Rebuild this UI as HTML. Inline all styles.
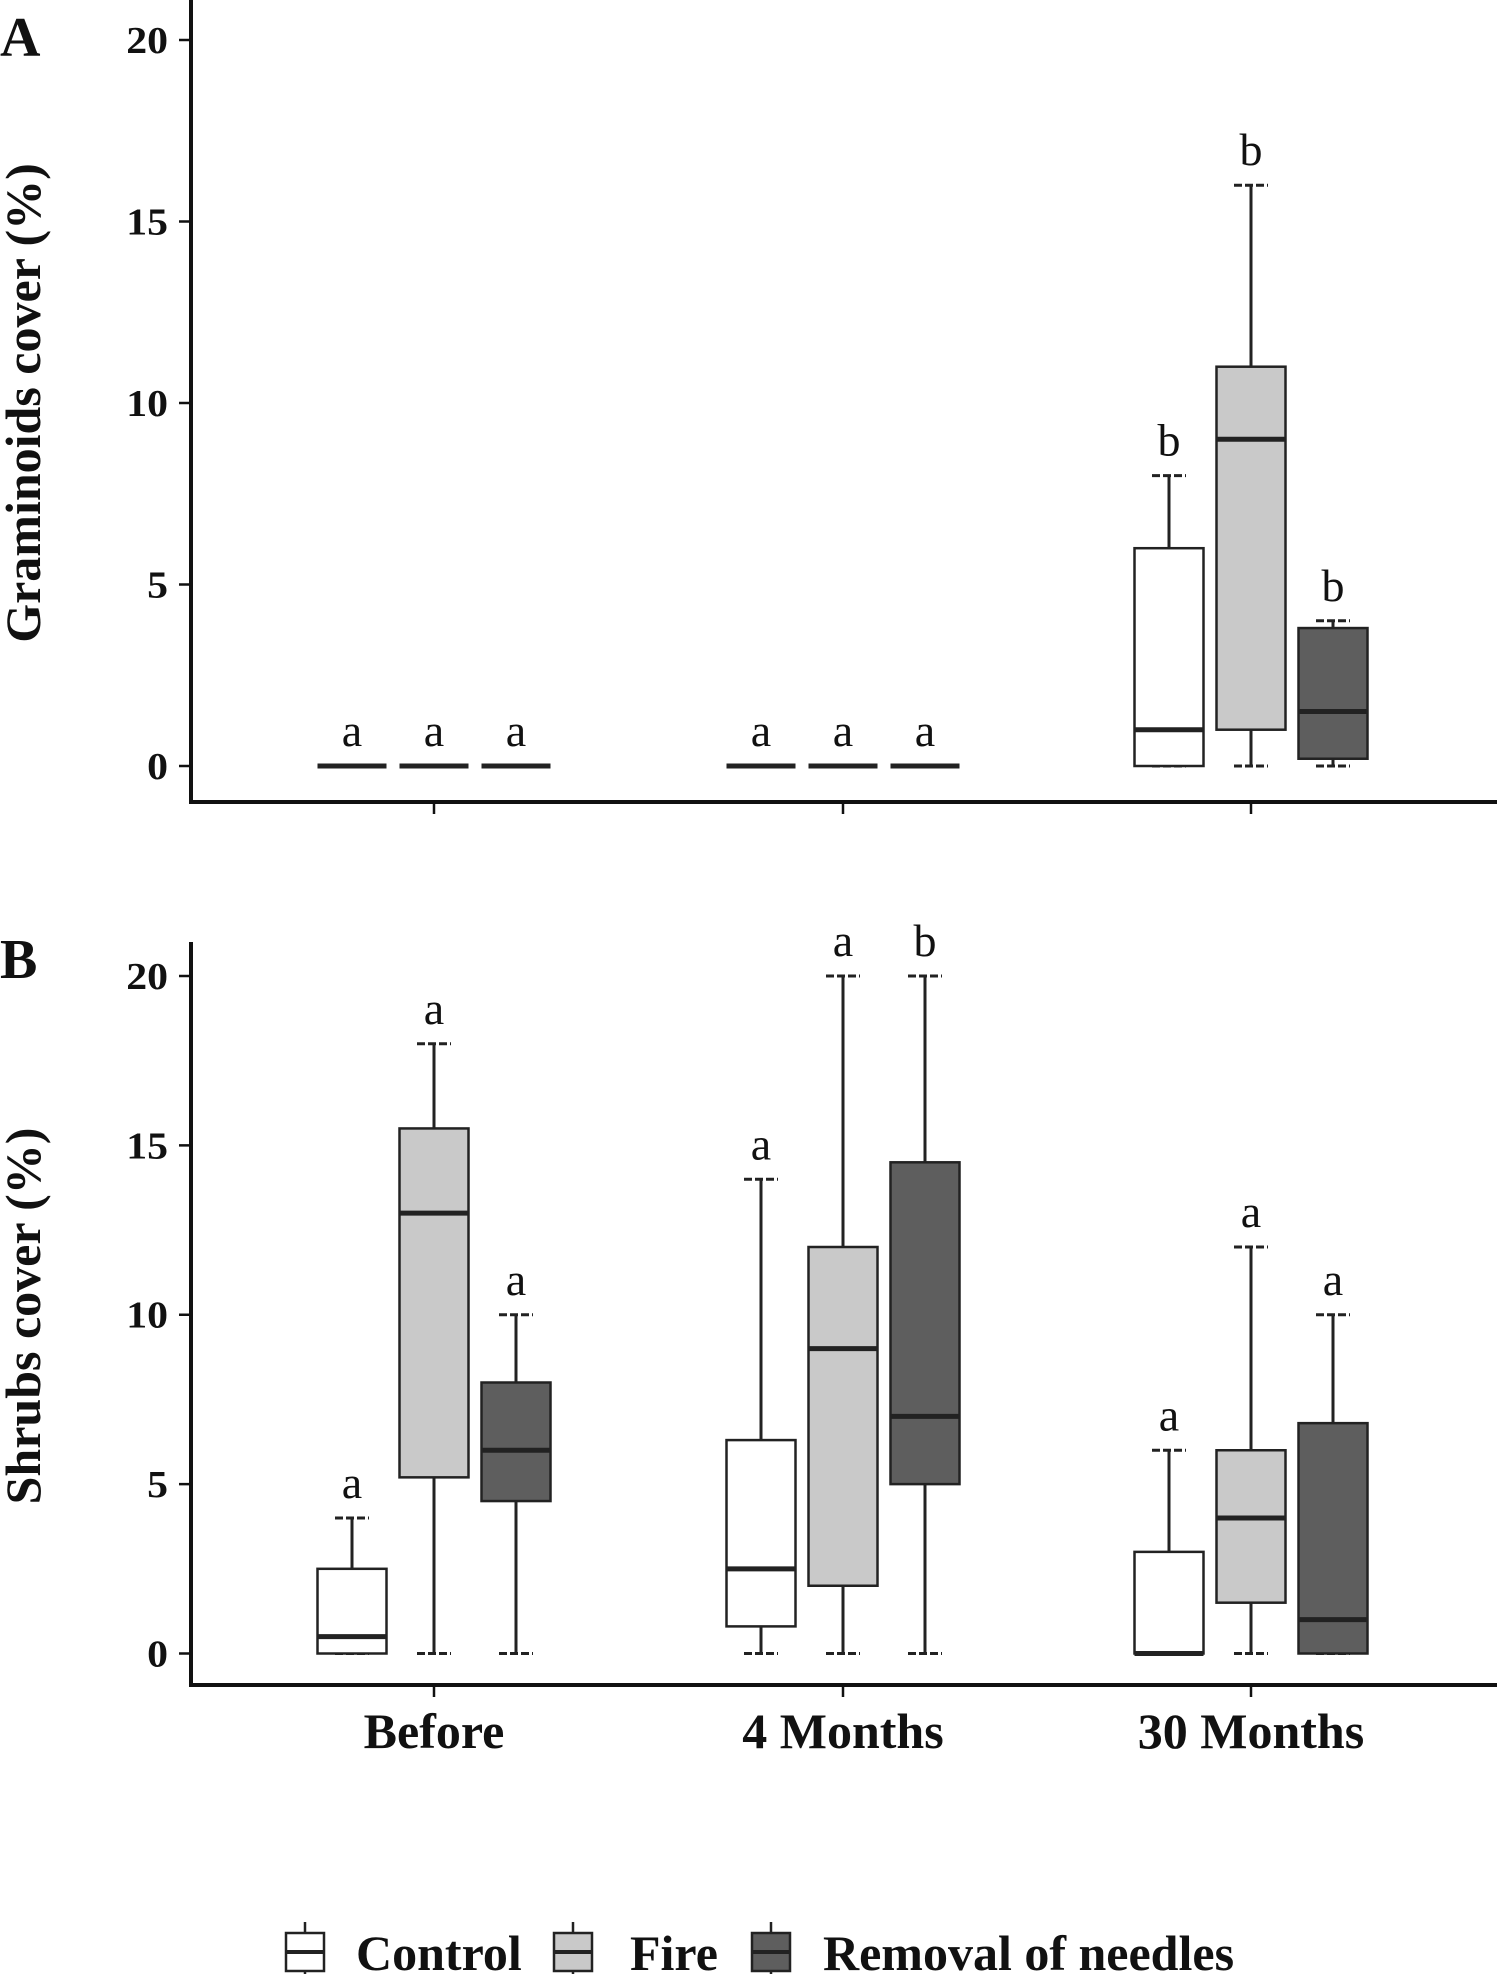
<!DOCTYPE html>
<html><head><meta charset="utf-8"><style>
body{margin:0;background:#fff;}
svg{display:block;font-family:"Liberation Serif",serif;}
</style></head><body>
<svg id="chart" width="1500" height="1974" viewBox="0 0 1500 1974"></svg>
<script>
const categories=["Before","4 Months","30 Months"];
const treatments=["Control","Fire","Removal of needles"];
const fills=["#ffffff","#c9c9c9","#5e5e5e"];
const yTicks=[0,5,10,15,20];
// panel A stats per [category][treatment]: [min,q1,median,q3,max]
const gramStats=[
 [[0,0,0,0,0],[0,0,0,0,0],[0,0,0,0,0]],
 [[0,0,0,0,0],[0,0,0,0,0],[0,0,0,0,0]],
 [[0,0,1,6,8],[0,1,9,11,16],[0,0.2,1.5,3.8,4]]
];
const gramLetters=[["a","a","a"],["a","a","a"],["b","b","b"]];
const shrubStats=[
 [[0,0,0.5,2.5,4],[0,5.2,13,15.5,18],[0,4.5,6,8,10]],
 [[0,0.8,2.5,6.3,14],[0,2,9,12,20],[0,5,7,14.5,20]],
 [[0,0,0,3,6],[0,1.5,4,6,12],[0,0,1,6.8,10]]
];
const shrubLetters=[["a","a","a"],["a","a","b"],["a","a","a"]];

const svg=document.getElementById('chart');
const NS="http://www.w3.org/2000/svg";
function mk(tag,attrs,parent){const e=document.createElementNS(NS,tag);for(const k in attrs)e.setAttribute(k,attrs[k]);(parent||svg).appendChild(e);return e;}
const catX=[434,843,1251];
const offset=82, bw=69;
const xPos=(c,t)=>catX[c]+(t-1)*offset;

function panel(name,stats,letters,y0,yTop,axisTop,axisBottom,yTitle,letter,showCats,titleY){
  const g=mk('g',{});
  
  
  const yS=v=>y0-(y0-yTop)*v/20;
  const ax=mk('line',{x1:191,y1:axisTop,x2:191,y2:axisBottom+2,stroke:'#111','stroke-width':4},g);
  
  const bx=mk('line',{x1:189,y1:axisBottom,x2:1497,y2:axisBottom,stroke:'#111','stroke-width':4},g);
  
  yTicks.forEach(v=>{
    mk('line',{x1:179,y1:yS(v),x2:191,y2:yS(v),stroke:'#111','stroke-width':2.5},g);
    const t=mk('text',{x:168,y:yS(v)+13,'text-anchor':'end','font-size':38,'font-weight':'bold',fill:'#111',transform:`translate(168,0) scale(1.1,1) translate(-168,0)`},g);
    t.textContent=v;
    
  });
  categories.forEach((c,ci)=>{
    mk('line',{x1:catX[ci],y1:axisBottom,x2:catX[ci],y2:axisBottom+12,stroke:'#111','stroke-width':2.5},g);
    if(showCats){
      const t=mk('text',{x:catX[ci],y:axisBottom+63,'text-anchor':'middle','font-size':50,'font-weight':'bold',fill:'#111'},g);
      t.textContent=c;
      
    }
    treatments.forEach((tr,ti)=>{
      const s=stats[ci][ti], x=xPos(ci,ti);
      const bg=mk('g',{},g);
      
      mk('line',{x1:x,y1:yS(s[0]),x2:x,y2:yS(s[4]),stroke:'#222','stroke-width':3},bg);
      mk('line',{x1:x-17,y1:yS(s[0]),x2:x+17,y2:yS(s[0]),stroke:'#222','stroke-width':3,'stroke-dasharray':'8 3'},bg);
      mk('line',{x1:x-17,y1:yS(s[4]),x2:x+17,y2:yS(s[4]),stroke:'#222','stroke-width':3,'stroke-dasharray':'8 3'},bg);
      mk('rect',{x:x-bw/2,y:yS(s[3]),width:bw,height:Math.max(0,yS(s[1])-yS(s[3])),fill:fills[ti],stroke:'#222','stroke-width':2.5},bg);
      mk('line',{x1:x-bw/2,y1:yS(s[2]),x2:x+bw/2,y2:yS(s[2]),stroke:'#222','stroke-width':5},bg);
      const lt=mk('text',{x:x,y:yS(s[4])-20,'text-anchor':'middle','font-size':46,fill:'#111'},g);
      lt.textContent=letters[ci][ti];
      
    });
  });
  const tt=mk('text',{x:0,y:0,'text-anchor':'middle','font-size':50,'font-weight':'bold',fill:'#111',transform:`translate(40,${titleY}) rotate(-90)`},g);
  tt.textContent=yTitle;
  
  const pl=mk('text',{x:0,y:letter==='A'?56:978,'font-size':56,'font-weight':'bold',fill:'#111'},g);
  pl.textContent=letter;
  
}
panel('panel-a-graminoids',gramStats,gramLetters,766,40,0,802,'Graminoids cover (%)','A',false,403);
panel('panel-b-shrubs',shrubStats,shrubLetters,1653.5,976,942,1685,'Shrubs cover (%)','B',true,1316);

// legend
const leg=mk('g',{});

const legIconX=[305,573,771], legTextX=[356,630,823];
treatments.forEach((tr,i)=>{
  const it=mk('g',{},leg);
  
  const x=legIconX[i], y=1952;
  mk('line',{x1:x,y1:y-30,x2:x,y2:y+30,stroke:'#222','stroke-width':2.5},it);
  mk('rect',{x:x-19,y:y-19,width:38,height:38,fill:fills[i],stroke:'#222','stroke-width':2.5},it);
  mk('line',{x1:x-19,y1:y,x2:x+19,y2:y,stroke:'#222','stroke-width':4},it);
  const t=mk('text',{x:legTextX[i],y:y+18,'font-size':50,'font-weight':'bold',fill:'#111'},it);
  t.textContent=tr;
});
</script>
</body></html>
